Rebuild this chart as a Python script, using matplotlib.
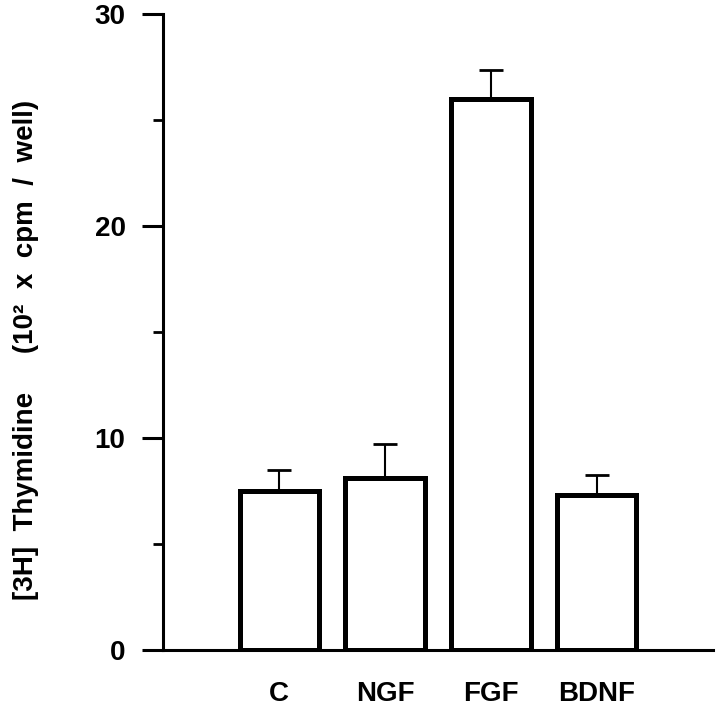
import matplotlib.pyplot as plt
from matplotlib.ticker import MultipleLocator

plt.rcParams['font.family'] = ['Liberation Sans', 'DejaVu Sans']

categories = ['C', 'NGF', 'FGF', 'BDNF']
values = [7.5, 8.1, 26.0, 7.3]
errors = [1.0, 1.6, 1.35, 0.95]

fig = plt.figure(figsize=(7.2, 7.07), dpi=100)
ax = fig.add_axes([163 / 720, 57 / 707, 550 / 720, 636 / 707])

x = list(range(len(categories)))
ax.bar(x, values, width=0.75, facecolor='white', edgecolor='black',
       linewidth=3.6, zorder=2)
ax.errorbar(x, values, yerr=[[0] * len(errors), errors], fmt='none',
            ecolor='black', elinewidth=1.5, capsize=8.3, capthick=2.0,
            zorder=1)

ax.set_xlim(-1.10, 4.10)
ax.set_ylim(0, 30)

for s in ['top', 'right']:
    ax.spines[s].set_visible(False)
ax.spines['left'].set_linewidth(2.2)
ax.spines['bottom'].set_linewidth(2.2)
ax.spines['left'].set_zorder(3)
ax.spines['bottom'].set_zorder(3)

ax.yaxis.set_major_locator(MultipleLocator(10))
ax.yaxis.set_minor_locator(MultipleLocator(5))
ax.tick_params(axis='y', which='major', length=15, width=2.2, pad=12,
               labelsize=20)
ax.tick_params(axis='y', which='minor', length=7, width=2.0)
for lab in ax.get_yticklabels():
    lab.set_fontweight('bold')

ax.set_xticks(x)
ax.set_xticklabels(categories, fontsize=20, fontweight='bold')
ax.tick_params(axis='x', length=0, pad=22)

fig.text(26 / 720, 1 - 350 / 707,
         '[3H]  Thymidine     (10\u00b2  x  cpm  /  well)',
         rotation=90, ha='center', va='center', fontsize=20,
         fontweight='bold')

fig.savefig('out.png', dpi=100)
